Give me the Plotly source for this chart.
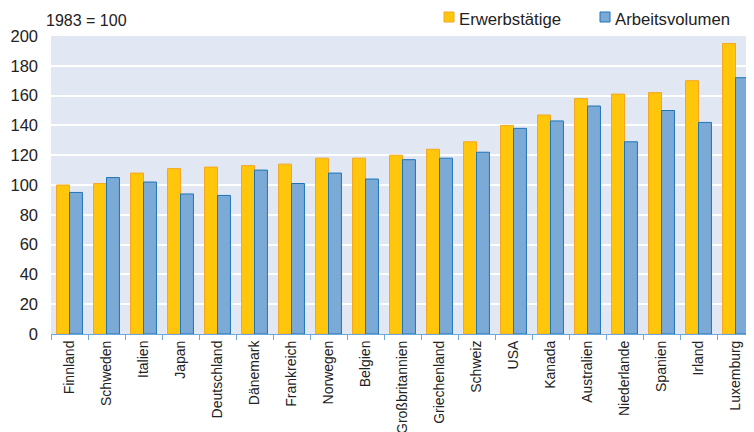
import plotly.graph_objects as go

countries = ["Finnland", "Schweden", "Italien", "Japan", "Deutschland", "Dänemark",
             "Frankreich", "Norwegen", "Belgien", "Großbritannien", "Griechenland",
             "Schweiz", "USA", "Kanada", "Australien", "Niederlande", "Spanien",
             "Irland", "Luxemburg"]
erwerbstaetige = [100, 101, 108, 111, 112, 113, 114, 118, 118, 120, 124, 129, 140,
                  147, 158, 161, 162, 170, 195]
arbeitsvolumen = [95, 105, 102, 94, 93, 110, 101, 108, 104, 117, 118, 122, 138,
                  143, 153, 129, 150, 142, 172]
y_ticks = [0, 20, 40, 60, 80, 100, 120, 140, 160, 180, 200]

YELLOW, YELLOW_LINE = "#FFC60B", "#F5A623"
BLUE, BLUE_LINE = "#7BAAD6", "#1F74B8"

OFF = 8  # page body margin in the browser
W, H = 754 - OFF, 432 - OFF
L, R, T, B = 51 - OFF, 0, 36 - OFF, 98

fig = go.Figure()
fig.add_trace(go.Bar(x=countries, y=erwerbstaetige, name="Erwerbstätige",
                     marker=dict(color=YELLOW, line=dict(color=YELLOW_LINE, width=1))))
fig.add_trace(go.Bar(x=countries, y=arbeitsvolumen, name="Arbeitsvolumen",
                     marker=dict(color=BLUE, line=dict(color=BLUE_LINE, width=1))))

fig.update_layout(
    width=W, height=H,
    margin=dict(l=L, r=R, t=T, b=B, autoexpand=False),
    paper_bgcolor="white",
    plot_bgcolor="#E1E8F4",
    barmode="group",
    bargap=0.3,
    bargroupgap=0,
    font=dict(family="Liberation Sans, Arial, sans-serif", color="#222222"),
    showlegend=False,
    xaxis=dict(
        type="category",
        tickangle=-90,
        tickfont=dict(size=14, color="#222222"),
        showline=True, linecolor="#6FA8DC", linewidth=1,
        ticks="outside", tickson="boundaries", ticklen=5, tickcolor="#6FA8DC",
        showgrid=False, automargin=False,
        range=[-0.5, 18.5],
    ),
    yaxis=dict(
        range=[0, 200],
        tickvals=y_ticks,
        tickfont=dict(size=16.5, color="#222222"),
        showgrid=True, gridcolor="white", gridwidth=2,
        zeroline=False, showline=False, automargin=False,
        ticks="", ticklabelstandoff=12,
    ),
)

PW, PH = W - L - R, H - T - B


def px_x(x):
    # x in reference-window pixels -> plot paper coordinate
    return (x - OFF - L) / PW


def px_y(y):
    return (H - B - (y - OFF)) / PH


shapes = []
annotations = [dict(text="1983 = 100", x=px_x(44), y=px_y(21), xref="paper", yref="paper",
                    xanchor="left", yanchor="middle", showarrow=False,
                    font=dict(size=16, color="#222222"))]
for (x0, col, lc, label) in [(444, YELLOW, YELLOW_LINE, "Erwerbstätige"),
                             (600, BLUE, BLUE_LINE, "Arbeitsvolumen")]:
    shapes.append(dict(type="rect", xref="paper", yref="paper",
                       x0=px_x(x0), x1=px_x(x0 + 10), y0=px_y(22), y1=px_y(12),
                       fillcolor=col, line=dict(color=lc, width=1)))
    annotations.append(dict(text=label, x=px_x(x0 + 13), y=px_y(19), xref="paper",
                            yref="paper", xanchor="left", yanchor="middle",
                            showarrow=False, font=dict(size=16.7, color="#222222")))
fig.update_layout(shapes=shapes, annotations=annotations)

fig.write_html("out.html")
